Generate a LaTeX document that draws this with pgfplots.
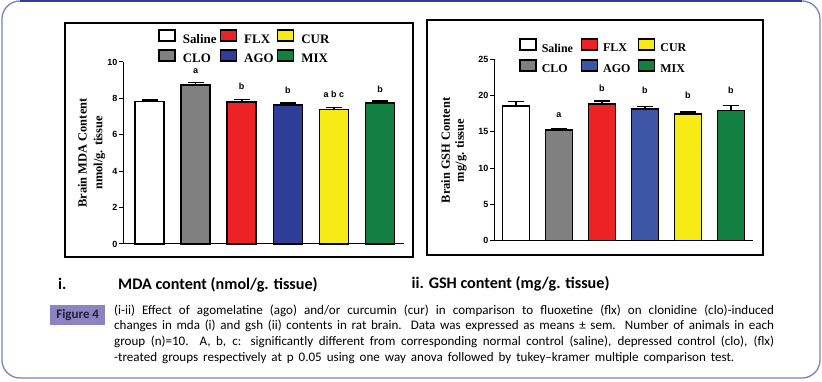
\documentclass[border=0pt]{standalone}
\usepackage{pgfplots}
\pgfplotsset{compat=1.18}
\usepackage{fontspec}
\setmainfont{Carlito}
\newfontfamily\serifB{Liberation Serif}
\newfontfamily\arialf{Liberation Sans}

\definecolor{cgray}{RGB}{128,128,128}
\definecolor{cred}{RGB}{237,34,36}
\definecolor{cblue}{RGB}{46,62,152}
\definecolor{cblueb}{RGB}{60,85,165}
\definecolor{cyellow}{RGB}{246,235,20}
\definecolor{cgreen}{RGB}{18,128,64}
\definecolor{topc}{RGB}{50,65,150}
\definecolor{sidec}{RGB}{125,130,180}
\definecolor{figbox}{RGB}{140,132,192}
\definecolor{figtext}{RGB}{30,30,60}

\pgfplotsset{
  mybar/.style={
    scale only axis,
    axis lines=left,
    axis line style={line width=1bp, -},
    xtick=\empty,
    ymin=0,
    tick align=outside,
    major tick length=4bp,
    ytick style={line width=1bp, black},
    /pgf/number format/assume math mode=true,
    yticklabel style={font=\arialf\bfseries\fontsize{9}{9}\selectfont, inner sep=1.5bp},
    clip=false,
    bar width=0.63,
    ylabel style={align=center, anchor=center, font=\serifB\bfseries\fontsize{12.5}{16}\selectfont},
    legend columns=3,
    legend cell align=left,
    legend image code/.code={\draw[##1, draw=black, line width=1.6bp] (0bp,-1.5bp) rectangle (16bp,9.5bp);},
  },
  onebar/.style={ybar, bar shift=0pt, fill=#1, draw=black, line width=1.6bp},
  errs/.style={error bars/.cd, y dir=plus, y explicit,
    error bar style={line width=1.6bp, draw=black},
    error mark options={rotate=90, line width=1.6bp, mark size=8bp, draw=black}},
  letters/.style={forget plot, draw=none, nodes near coords, point meta=explicit symbolic,
    every node near coord/.style={anchor=center, inner sep=0.5bp, black, font=\arialf\bfseries\fontsize{9}{9}\selectfont}},
}

\begin{document}
\begin{tikzpicture}
\useasboundingbox (0,0) rectangle (822bp,382bp);
\draw[sidec, line width=1.3bp, rounded corners=18bp] (2bp,4bp) rectangle (820bp,381bp);
\draw[topc, line width=1.5bp] (20bp,381bp) -- (802bp,381bp);
\draw[black, line width=1.5bp] (65bp,125bp) rectangle (413bp,359bp);
\draw[black, line width=1.5bp] (427bp,127bp) rectangle (763bp,362bp);

% ---------- MDA ----------
\begin{axis}[mybar, at={(123bp,138bp)}, anchor=south west,
  width=281bp, height=182bp,
  xmin=-0.575, xmax=5.52, ymax=10, ytick={0,2,4,6,8,10},
  ylabel={Brain MDA Content\\nmol/g. tissue},
  ylabel style={at={(axis description cs:-0.112,0.5)}},
  legend style={draw=none, fill=none, at={(0.1246,1.18)}, anchor=north west,
    inner sep=0pt, font=\serifB\bfseries\fontsize{13}{13}\selectfont,
    row sep=3.5bp, nodes={inner sep=0.5bp},
    /tikz/every odd column/.append style={column sep=6.5bp},
    /tikz/every even column/.append style={column sep=2.5bp}},
]
\addplot[onebar=white, errs] coordinates {(0,7.82) +- (0,0.09)};
\addlegendentry{Saline}
\addplot[onebar=cred, errs] coordinates {(2,7.80) +- (0,0.15)};
\addlegendentry{FLX}
\addplot[onebar=cyellow, errs] coordinates {(4,7.38) +- (0,0.12)};
\addlegendentry{CUR}
\addplot[onebar=cgray, errs] coordinates {(1,8.74) +- (0,0.14)};
\addlegendentry{CLO}
\addplot[onebar=cblue, errs] coordinates {(3,7.65) +- (0,0.10)};
\addlegendentry{AGO}
\addplot[onebar=cgreen, errs] coordinates {(5,7.76) +- (0,0.11)};
\addlegendentry{MIX}
\addplot[letters] coordinates {(1,9.48) [a] (2,8.64) [b] (3,8.42) [b] (4,8.23) [a b c] (5,8.50) [b]};
\end{axis}

% ---------- GSH ----------
\begin{axis}[mybar, at={(494bp,141.3bp)}, anchor=south west,
  width=258.7bp, height=181.4bp,
  xmin=-0.51, xmax=5.505, ymax=25, ytick={0,5,10,15,20,25},
  ylabel={Brain GSH Content\\mg/g. tissue},
  ylabel style={at={(axis description cs:-0.1546,0.498)}, font=\serifB\bfseries\fontsize{12.5}{14}\selectfont},
  legend style={draw=none, fill=none, at={(0.0966,1.116)}, anchor=north west,
    inner sep=0pt, font=\serifB\bfseries\fontsize{12}{12}\selectfont,
    row sep=4.9bp, nodes={inner sep=0.5bp},
    /tikz/every odd column/.append style={column sep=4.5bp},
    /tikz/every even column/.append style={column sep=7bp}},
]
\addplot[onebar=white, errs] coordinates {(0,18.55) +- (0,0.65)};
\addlegendentry{Saline}
\addplot[onebar=cred, errs] coordinates {(2,18.87) +- (0,0.41)};
\addlegendentry{FLX}
\addplot[onebar=cyellow, errs] coordinates {(4,17.50) +- (0,0.25)};
\addlegendentry{CUR}
\addplot[onebar=cgray, errs] coordinates {(1,15.29) +- (0,0.10)};
\addlegendentry{CLO}
\addplot[onebar=cblueb, errs] coordinates {(3,18.18) +- (0,0.32)};
\addlegendentry{AGO}
\addplot[onebar=cgreen, errs] coordinates {(5,17.96) +- (0,0.69)};
\addlegendentry{MIX}
\addplot[letters] coordinates {(1,17.36) [a] (2,21.07) [b] (3,20.66) [b] (4,20.07) [b] (5,20.76) [b]};
\end{axis}

% ---------- captions ----------
\node[anchor=base west, inner sep=0pt, font=\bfseries\fontsize{16.2}{17}\selectfont] at (58bp,92bp) {i.};
\node[anchor=base west, inner sep=0pt, font=\bfseries\fontsize{16.2}{17}\selectfont] at (118bp,92bp) {MDA content (nmol/g. tissue)};
\node[anchor=base west, inner sep=0pt, font=\bfseries\fontsize{16.2}{17}\selectfont] at (411.5bp,93.5bp) {ii. GSH content (mg/g. tissue)};

\node[anchor=south west, inner sep=0pt, fill=figbox, minimum width=55bp, minimum height=20bp,
  text=figtext, font=\bfseries\fontsize{13}{13}\selectfont] at (50bp,57bp) {Figure 4};

\begin{scope}[every node/.style={anchor=base west, inner sep=0pt, font=\fontsize{13.1}{15}\selectfont}]
\node at (114bp,67.5bp) {\makebox[660bp][s]{(i-ii) Effect of agomelatine (ago) and/or curcumin (cur) in comparison to fluoxetine (flx) on clonidine (clo)-induced}};
\node at (114bp,52bp) {\makebox[660bp][s]{changes in mda (i) and gsh (ii) contents in rat brain. Data was expressed as means ± sem. Number of animals in each}};
\node at (114bp,36.5bp) {\makebox[660bp][s]{group (n)=10.\ \ A, b, c: significantly different from corresponding normal control (saline), depressed control (clo), (flx)}};
\node at (114bp,21bp) {\makebox[620bp][s]{-treated groups respectively at p 0.05 using one way anova followed by tukey--kramer multiple comparison test.}};
\end{scope}
\end{tikzpicture}
\end{document}
